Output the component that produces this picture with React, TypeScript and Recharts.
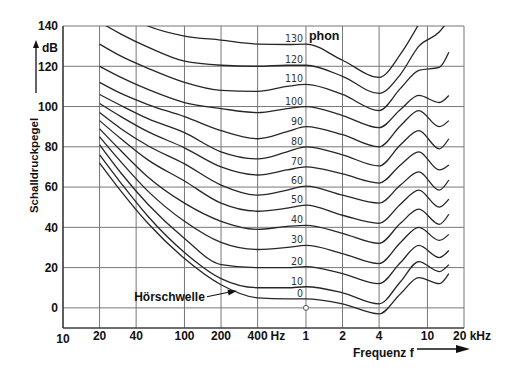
import {
  LineChart,
  Line,
  XAxis,
  YAxis,
  CartesianGrid,
  ReferenceDot,
  LabelList,
} from "recharts";

// frequency grid (Hz) shared by all curves
const FREQS = [20, 30, 50, 100, 200, 400, 700, 1000, 2000, 4000, 6000, 8500, 12500, 15000];

// sound pressure level (dB) per loudness level
const L0 = [72, 58, 42, 24.5, 11.5, 5, 4.5, 4.5, 2, -3, 7, 15, 12, 17];
const L10 = [76, 62, 45.5, 27.5, 14.5, 10, 10, 10.5, 7.5, 2, 13, 23, 18, 21.5];
const L20 = [81, 67, 51.5, 34.5, 21.5, 20, 20, 20.5, 17, 12, 22.5, 31, 25, 28.5];
const L30 = [85, 72.5, 58, 43, 32.5, 29, 30, 31, 27, 22, 32.5, 40, 33.5, 36.5];
const L40 = [89, 78, 65, 52, 43, 39, 40.5, 41, 37, 32, 42, 49, 41.5, 46.5];
const L50 = [93, 84, 73.5, 63, 52, 48, 49.5, 51, 46, 42, 51.5, 58.5, 50, 54];
const L60 = [97, 89, 80.5, 71.5, 61, 56, 58.5, 60.5, 56, 52, 61, 67.5, 58.5, 63.5];
const L70 = [101.5, 95, 87.5, 79.5, 70, 66, 68.5, 70, 66.5, 62, 71, 77.5, 68.5, 71];
const L80 = [106, 100.5, 94, 87, 77.5, 74, 77.5, 80, 76, 70.5, 81, 88, 79, 84];
const L90 = [112, 106.5, 101, 95, 88, 84, 87.5, 90, 86, 80, 90.5, 98, 90, 93];
const L100 = [120, 114.5, 108.5, 102, 99, 97, 99, 100, 95.5, 89.5, 98.5, 105.5, 102, 105.5];
const L110 = [131, 125, 119, 112, 108, 107.5, 110, 111, 106, 98, 109, 118, 119.5, 127];
const L120 = [142, 136, 129.5, 122.5, 120.5, 120, 120.5, 120.5, 115, 106.5, 116, 130, 137, 143];
const L130 = [null, 147, 140, 135, 133, 131, 130.8, 131, 123, 114.5, 126, 141, null, null];

const PHONS = [0, 10, 20, 30, 40, 50, 60, 70, 80, 90, 100, 110, 120, 130];
const LEVELS = [L0, L10, L20, L30, L40, L50, L60, L70, L80, L90, L100, L110, L120, L130];

const X_TICKS = [10, 20, 40, 100, 200, 400, 1000, 2000, 4000, 10000, 20000];
const X_LABELS = ["10", "20", "40", "100", "200", "400", "1", "2", "4", "10", "20"];
const Y_TICKS = [0, 20, 40, 60, 80, 100, 120, 140];

const FONT = "'Liberation Sans', Arial, Helvetica, sans-serif";
const NARROW =
  "'Liberation Sans Narrow', 'Arial Narrow', 'DejaVu Sans Condensed', 'Liberation Sans', sans-serif";
const INK = "#111";

const series = PHONS.map((p, k) => ({
  phon: p,
  data: FREQS.map((f, i) => ({
    f,
    v: LEVELS[k][i],
    lab: f === 1000 ? String(p) : null,
  })),
}));

const XTick = (props: any) => {
  const { x, y, payload } = props;
  const i = X_TICKS.indexOf(payload.value);
  const txt = X_LABELS[i];
  const base = { fontFamily: FONT, fontWeight: "bold" as const, fontSize: 12, fill: INK };
  if (payload.value === 400) {
    return (
      <g>
        <text x={x} y={y + 12} textAnchor="middle" {...base}>{txt}</text>
        <text x={x + 13} y={y + 12} {...base}>Hz</text>
      </g>
    );
  }
  if (payload.value === 20000) {
    return (
      <text x={x - 11} y={y + 12} {...base}>{txt} kHz</text>
    );
  }
  return (
    <text x={x} y={y + (i === 0 ? 15 : 12)} textAnchor="middle" {...base}>
      {txt}
    </text>
  );
};

const XTitle = (props: any) => {
  const vb = props.viewBox || { x: 63, y: 328, width: 401, height: 30 };
  const { x, y } = vb;
  return (
    <g>
      <text x={x + 290} y={y + 29} fontFamily={FONT} fontWeight="bold" fontSize={12} fill={INK}>
        Frequenz f
      </text>
      <line x1={x + 354} y1={y + 21} x2={x + 396} y2={y + 21} stroke={INK} strokeWidth={1.3} />
      <polygon
        points={`${x + 393},${y + 17} ${x + 407},${y + 21} ${x + 393},${y + 25}`}
        fill={INK}
      />
    </g>
  );
};

const YTitle = (props: any) => {
  const vb = props.viewBox || { x: 13, y: 26, width: 50, height: 302 };
  const { x, y } = vb;
  const cx = x + 21;
  const cy = y + 139.5;
  return (
    <g>
      <text
        x={cx}
        y={cy}
        transform={`rotate(-90 ${cx} ${cy})`}
        textAnchor="middle"
        dominantBaseline="central"
        fontFamily={FONT}
        fontWeight="bold"
        fontSize={11.5}
        fill={INK}
      >
        Schalldruckpegel
      </text>
      <line x1={x + 23} y1={y + 67} x2={x + 23} y2={y + 20} stroke={INK} strokeWidth={1.3} />
      <polygon points={`${x + 20},${y + 22} ${x + 23},${y + 14} ${x + 26},${y + 22}`} fill={INK} />
      <text x={x + 29} y={y + 26} fontFamily={FONT} fontWeight="bold" fontSize={12} fill={INK}>
        dB
      </text>
    </g>
  );
};

const PhonLabel = (props: any) => {
  const { x, y, value } = props;
  if (value == null || x == null || y == null) return null;
  return (
    <g>
      <text x={x - 3} y={y - 2} textAnchor="end" fontFamily={NARROW} fontSize={10.5} fill="#333">
        {value}
      </text>
      {value === "130" && (
        <text x={x + 3} y={y - 4} fontFamily={FONT} fontWeight="bold" fontSize={12.5} fill={INK}>
          phon
        </text>
      )}
    </g>
  );
};

const ThresholdNote = (props: any) => {
  const { cx, cy } = props;
  if (cx == null || cy == null) return null;
  return (
    <g>
      <text
        x={cx - 32}
        y={cy + 10}
        textAnchor="end"
        fontFamily={FONT}
        fontWeight="bold"
        fontSize={12}
        fill={INK}
      >
        Hörschwelle
      </text>
      <line x1={cx - 30} y1={cy + 6} x2={cx - 6} y2={cy + 1} stroke={INK} strokeWidth={1.1} />
      <polygon
        points={`${cx},${cy} ${cx - 8.2},${cy + 4.7} ${cx - 9.4},${cy - 1.1}`}
        fill={INK}
      />
    </g>
  );
};

export default function App() {
  return (
    <div
      style={{
        position: "absolute",
        left: 0,
        top: 0,
        width: 530,
        height: 381,
        background: "#fff",
      }}
    >
      <LineChart
        width={530}
        height={381}
        margin={{ top: 26, right: 66, bottom: 23, left: 13 }}
      >
        <CartesianGrid stroke="#777" strokeWidth={1} />
        <XAxis
          dataKey="f"
          type="number"
          scale="log"
          domain={[10, 20000]}
          ticks={X_TICKS}
          interval={0}
          allowDataOverflow
          height={30}
          tickLine={false}
          tickSize={0}
          tickMargin={0}
          axisLine={{ stroke: "#222", strokeWidth: 1.2 }}
          tick={<XTick />}
          label={XTitle}
        />
        <YAxis
          type="number"
          domain={[-10, 140]}
          ticks={Y_TICKS}
          interval={0}
          allowDataOverflow
          width={50}
          tickLine={false}
          tickSize={0}
          tickMargin={5}
          axisLine={{ stroke: "#222", strokeWidth: 1.2 }}
          tick={{ fill: INK, fontSize: 12, fontWeight: "bold", fontFamily: FONT }}
          label={YTitle}
        />
        {series.map((s) => (
          <Line
            key={s.phon}
            data={s.data}
            dataKey="v"
            type="monotone"
            stroke="#262626"
            strokeWidth={1.3}
            dot={false}
            activeDot={false}
            isAnimationActive={false}
          >
            <LabelList dataKey="lab" content={PhonLabel} />
          </Line>
        ))}
        <ReferenceDot x={1000} y={0} r={2.5} fill="#fff" stroke="#555" strokeWidth={1} />
        <ReferenceDot x={270} y={8.5} r={0} shape={ThresholdNote} />
      </LineChart>
    </div>
  );
}
